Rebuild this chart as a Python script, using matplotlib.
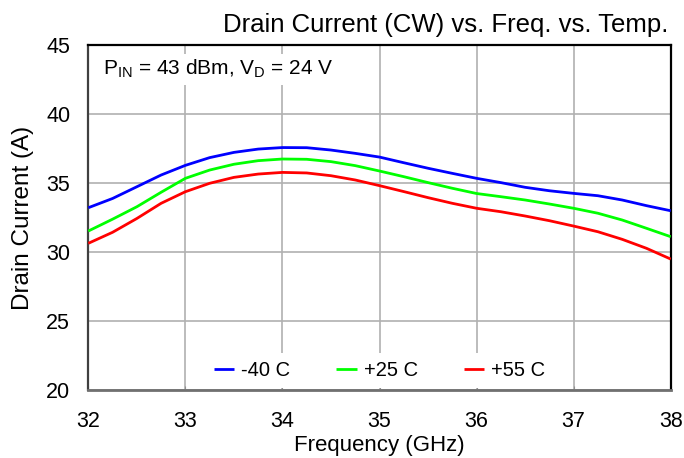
import matplotlib
matplotlib.use("Agg")
import matplotlib.pyplot as plt

plt.rcParams['font.family'] = ['Liberation Sans', 'DejaVu Sans']
plt.rcParams['mathtext.fontset'] = 'custom'
plt.rcParams['mathtext.rm'] = 'Liberation Sans'
plt.rcParams['mathtext.it'] = 'Liberation Sans'

freq = [32.0, 32.25, 32.5, 32.75, 33.0, 33.25, 33.5, 33.75, 34.0, 34.25, 34.5, 34.75,
        35.0, 35.25, 35.5, 35.75, 36.0, 36.25, 36.5, 36.75, 37.0, 37.25, 37.5, 37.75, 38.0]
i_m40 = [33.23, 33.9, 34.75, 35.6, 36.3, 36.86, 37.24, 37.48, 37.59, 37.58, 37.41, 37.17,
         36.9, 36.49, 36.09, 35.72, 35.36, 35.05, 34.71, 34.46, 34.27, 34.1, 33.79, 33.38, 33.01]
i_p25 = [31.54, 32.4, 33.3, 34.35, 35.36, 35.96, 36.38, 36.64, 36.76, 36.74, 36.57, 36.28,
         35.89, 35.48, 35.05, 34.64, 34.26, 34.03, 33.79, 33.5, 33.19, 32.83, 32.34, 31.74, 31.13]
i_p55 = [30.65, 31.45, 32.45, 33.55, 34.39, 35.0, 35.43, 35.67, 35.79, 35.75, 35.55, 35.24,
         34.83, 34.4, 33.96, 33.55, 33.19, 32.94, 32.63, 32.29, 31.9, 31.49, 30.94, 30.29, 29.51]
labels = ['-40 C', '+25 C', '+55 C']
colors = ['#0000ff', '#00ff00', '#ff0000']
xticks = [32, 33, 34, 35, 36, 37, 38]
yticks = [20, 25, 30, 35, 40, 45]

fig = plt.figure(figsize=(6.84, 4.58), dpi=100)
ax = fig.add_axes([0.1291, 0.1478, 0.8515, 0.7533])

for ys, lab, c in zip([i_m40, i_p25, i_p55], labels, colors):
    ax.plot(freq, ys, color=c, lw=2, label=lab, solid_joinstyle='round',
            solid_capstyle='butt', zorder=3)

ax.set_xlim(32, 38)
ax.set_ylim(20, 45)
ax.set_xticks(xticks)
ax.set_yticks(yticks)
ax.grid(True, color='#b0b0b0', lw=1.2, zorder=0)
ax.tick_params(axis='x', direction='in', length=3, labelsize=15.5, color='#909090', pad=15)
ax.tick_params(axis='y', direction='in', length=0, labelsize=15.5, pad=13)
for s in ['left', 'top', 'right']:
    ax.spines[s].set_color('black')
    ax.spines[s].set_linewidth(1.6)
ax.spines['left'].set_color('#404040')
ax.spines['bottom'].set_color('#707070')
ax.spines['bottom'].set_linewidth(2)

ax.set_xlabel('Frequency (GHz)', fontsize=16, labelpad=2)
ax.set_ylabel('Drain Current (A)', fontsize=17.5, labelpad=9)

fig.text(0.977, 0.930, 'Drain Current (CW) vs. Freq. vs. Temp.', fontsize=18.5,
         ha='right', va='baseline')

ax.text(0.025, 0.963, r'P$_{\mathregular{IN}}$ = 43 dBm, V$_{\mathregular{D}}$ = 24 V',
        transform=ax.transAxes, fontsize=15, ha='left', va='top', zorder=4,
        bbox=dict(facecolor='white', edgecolor='none', pad=3))

leg = ax.legend(loc='lower center', ncol=3, frameon=True, fontsize=14.5,
                handlelength=1.0, columnspacing=2.3, handletextpad=0.35,
                bbox_to_anchor=(0.5, 0.0), borderaxespad=0.1)
leg.get_frame().set_edgecolor('none')
leg.get_frame().set_facecolor('white')
leg.get_frame().set_alpha(1)

fig.savefig('out.png', dpi=100)
